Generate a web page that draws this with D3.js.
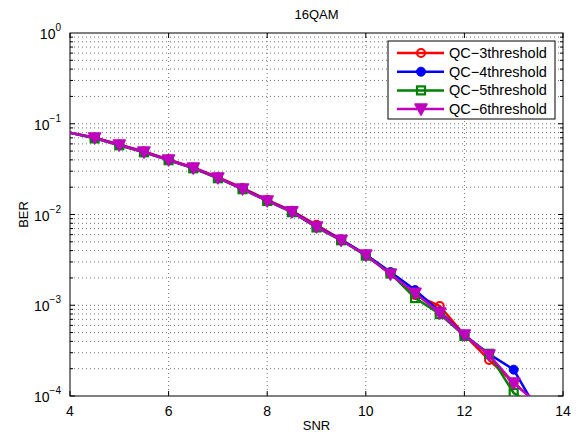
<!DOCTYPE html>
<html><head><meta charset="utf-8">
<script src="https://cdn.jsdelivr.net/npm/d3@7"></script>
<style>
body{margin:0;background:#fff;}
svg{display:block;font-family:"Liberation Sans",Arial,Helvetica,sans-serif;}
</style></head>
<body><svg id="c" width="576" height="435"></svg>
<script>
const snr = [4,4.5,5,5.5,6,6.5,7,7.5,8,8.5,9,9.5,10,10.5,11,11.5,12,12.5,13,13.5];
const berQC3 = [0.0797,0.0705,0.0590,0.0495,0.0405,0.0330,0.0258,0.0196,0.0145,0.0110,0.0077,0.0053,0.00360,0.00222,0.00130,0.00098,0.00047,0.000250,0.000140,0.000081];
const berQC4 = [0.0797,0.0697,0.0583,0.0488,0.0399,0.0325,0.0253,0.0193,0.0142,0.0108,0.0074,0.0053,0.00362,0.00232,0.00147,0.00085,0.00047,0.000290,0.000195,0.000066];
const berQC5 = [0.0797,0.0690,0.0580,0.0485,0.0397,0.0323,0.0251,0.0190,0.0141,0.0106,0.0072,0.0052,0.00352,0.00224,0.00120,0.00080,0.00046,0.000292,0.000108,0.000074];
const berQC6 = [0.0797,0.0697,0.0583,0.0488,0.0399,0.0325,0.0253,0.0191,0.0141,0.0107,0.0073,0.0052,0.00358,0.00220,0.00136,0.00082,0.00047,0.000283,0.000139,0.000081];
const seriesNames = ["QC\u22123threshold","QC\u22124threshold","QC\u22125threshold","QC\u22126threshold"];
const xTicks = [4,6,8,10,12,14];
const yTicks = [1e-4,1e-3,1e-2,1e-1,1e0];
const titleText = "16QAM", xLabel = "SNR", yLabel = "BER";

const series = [
  {name:seriesNames[0], vals:berQC3, color:"#ff0000", marker:"circleOpen"},
  {name:seriesNames[1], vals:berQC4, color:"#0000ff", marker:"circleFilled"},
  {name:seriesNames[2], vals:berQC5, color:"#008000", marker:"square"},
  {name:seriesNames[3], vals:berQC6, color:"#bf00bf", marker:"triDown"}
];

const L=70, R=563, T=33, B=396;
const svg = d3.select("#c");
const x = d3.scaleLinear().domain([4,14]).range([L,R]);
const y = d3.scaleLog().domain([1e-4,1e0]).range([B,T]);

svg.append("defs").append("clipPath").attr("id","clip")
  .append("rect").attr("x",L).attr("y",T).attr("width",R-L).attr("height",B-T);

// grid
const grid = svg.append("g").attr("stroke","#000").attr("stroke-width",0.8)
  .attr("stroke-dasharray","1,3").attr("opacity",0.7);
const minorY = [];
for (let e=-4;e<0;e++) for (let m=1;m<10;m++) minorY.push(m*Math.pow(10,e));
minorY.filter(v=>v>1e-4).forEach(v=>{
  grid.append("line").attr("x1",L).attr("x2",R).attr("y1",y(v)).attr("y2",y(v));
});
xTicks.filter(v=>v>4&&v<14).forEach(v=>{
  grid.append("line").attr("x1",x(v)).attr("x2",x(v)).attr("y1",T).attr("y2",B);
});

// axes ticks
const ax = svg.append("g").attr("stroke","#000").attr("stroke-width",1);
const tl=5, tm=3;
xTicks.forEach(v=>{
  ax.append("line").attr("x1",x(v)).attr("x2",x(v)).attr("y1",B).attr("y2",B-tl);
  ax.append("line").attr("x1",x(v)).attr("x2",x(v)).attr("y1",T).attr("y2",T+tl);
});
minorY.forEach(v=>{
  const isMaj = Math.abs(Math.log10(v)-Math.round(Math.log10(v)))<1e-9;
  const len = isMaj?tl:tm;
  ax.append("line").attr("x1",L).attr("x2",L+len).attr("y1",y(v)).attr("y2",y(v));
  ax.append("line").attr("x1",R).attr("x2",R-len).attr("y1",y(v)).attr("y2",y(v));
});
svg.append("rect").attr("x",L).attr("y",T).attr("width",R-L).attr("height",B-T)
  .attr("fill","none").attr("stroke","#000").attr("stroke-width",1);

// tick labels
xTicks.forEach(v=>{
  svg.append("text").attr("x",x(v)).attr("y",B+20).attr("text-anchor","middle")
    .attr("font-size",14).text(v);
});
yTicks.forEach(v=>{
  const e = Math.round(Math.log10(v));
  const t = svg.append("text").attr("x",L-9).attr("y",y(v)+6).attr("text-anchor","end").attr("font-size",14);
  t.append("tspan").text("10");
  t.append("tspan").attr("dy",-8).attr("font-size",10).text(e===0?"0":"\u2212"+(-e));
});
svg.append("text").attr("x",(L+R)/2).attr("y",19).attr("text-anchor","middle").attr("font-size",13).text(titleText);
svg.append("text").attr("x",(L+R)/2).attr("y",430).attr("text-anchor","middle").attr("font-size",13).text(xLabel);
svg.append("text").attr("transform",`translate(28,${(T+B)/2}) rotate(-90)`).attr("text-anchor","middle").attr("font-size",13).text(yLabel);

function drawMarker(g, type, color, cx, cy){
  if(type==="circleOpen") g.append("circle").attr("cx",cx).attr("cy",cy).attr("r",4).attr("fill","none").attr("stroke",color).attr("stroke-width",2);
  else if(type==="circleFilled") g.append("circle").attr("cx",cx).attr("cy",cy).attr("r",4.5).attr("fill",color).attr("stroke",color).attr("stroke-width",1);
  else if(type==="square") g.append("rect").attr("x",cx-4).attr("y",cy-4).attr("width",8).attr("height",8).attr("fill","none").attr("stroke",color).attr("stroke-width",2.2);
  else if(type==="triDown") g.append("path").attr("d",`M${cx-6},${cy-5}L${cx+6},${cy-5}L${cx},${cy+6}Z`).attr("fill",color).attr("stroke",color).attr("stroke-width",1.5).attr("stroke-linejoin","round");
}

const plot = svg.append("g").attr("clip-path","url(#clip)");
const line = d3.line().x(d=>x(d[0])).y(d=>y(d[1]));
series.forEach(s=>{
  const pts = snr.map((v,i)=>[v,s.vals[i]]);
  const g = plot.append("g");
  g.append("path").attr("d",line(pts)).attr("fill","none").attr("stroke",s.color).attr("stroke-width",2.5);
  pts.filter(p=>p[0]>4).forEach(p=>drawMarker(g,s.marker,s.color,x(p[0]),y(p[1])));
});

// legend
const lg = svg.append("g");
lg.append("rect").attr("x",388).attr("y",41).attr("width",167).attr("height",78).attr("fill","#fff").attr("stroke","#000").attr("stroke-width",1);
series.forEach((s,i)=>{
  const cy = 53 + i*18.7;
  lg.append("line").attr("x1",397).attr("x2",444).attr("y1",cy).attr("y2",cy).attr("stroke",s.color).attr("stroke-width",2.5);
  drawMarker(lg,s.marker,s.color,421,cy);
  lg.append("text").attr("x",449).attr("y",cy+5).attr("font-size",14.5).text(s.name);
});
</script></body></html>
